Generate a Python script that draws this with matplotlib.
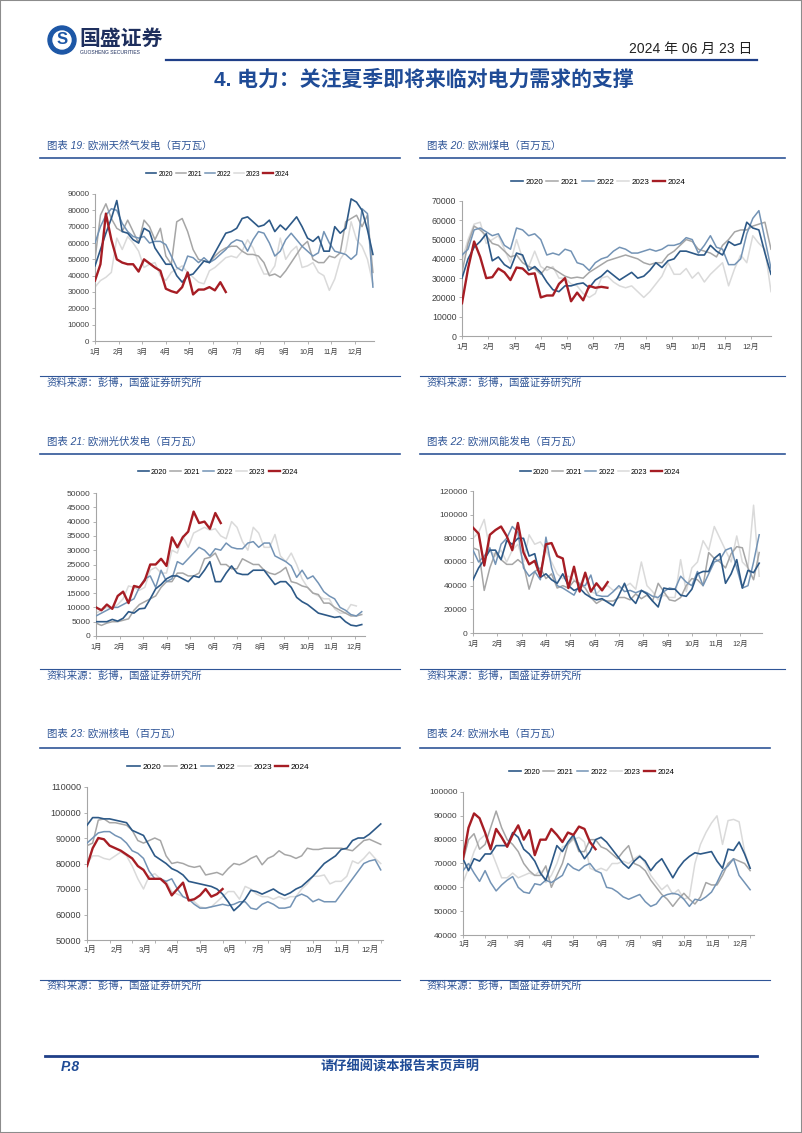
import numpy as np
import matplotlib
matplotlib.use('Agg')
import matplotlib.pyplot as plt
from matplotlib.lines import Line2D
from matplotlib.patches import Ellipse, Rectangle

plt.rcParams['font.family'] = ['Liberation Sans', 'Noto Sans CJK SC']

W, H = 802, 1133

years = ['2020', '2021', '2022', '2023', '2024']
months12 = ['1月', '2月', '3月', '4月', '5月', '6月', '7月', '8月', '9月', '10月', '11月', '12月']
months11 = ['1月', '2月', '3月', '4月', '5月', '6月', '7月', '9月', '10月', '11月', '12月']

# 图表19 欧洲天然气发电
gas_2020 = [46000, 56000, 66000, 75000, 86000, 67000, 66000, 62000, 60000, 69000,
            67000, 57000, 52000, 47000, 47000, 40000, 36000, 40000, 41000, 45000,
            49000, 48000, 54000, 60000, 66000, 67000, 69000, 75000, 76000, 73000,
            70000, 71000, 74000, 67000, 71000, 68000, 72000, 76000, 70000, 63000,
            61000, 64000, 55000, 55000, 70000, 66000, 69000, 87000, 85000, 80000,
            68000, 53000]
gas_2021 = [50000, 77000, 84000, 75000, 69000, 67000, 74000, 67000, 60000, 74000,
            70000, 62000, 69000, 52000, 47000, 73000, 75000, 67000, 56000, 50000,
            49000, 48000, 52000, 55000, 57000, 58000, 58000, 55000, 53000, 53000,
            52000, 48000, 40000, 41000, 39000, 43000, 48000, 53000, 58000, 61000,
            50000, 48000, 48000, 52000, 51000, 54000, 73000, 75000, 77000, 70000,
            77000, 42000]
gas_2022 = [60000, 70000, 77000, 81000, 80000, 72000, 67000, 64000, 63000, 64000,
            60000, 61000, 61000, 59000, 52000, 45000, 43000, 52000, 51000, 48000,
            51000, 48000, 50000, 53000, 56000, 60000, 62000, 61000, 55000, 62000,
            67000, 66000, 60000, 52000, 55000, 62000, 66000, 62000, 58000, 55000,
            52000, 54000, 67000, 60000, 55000, 54000, 53000, 50000, 53000, 81000,
            78000, 33000]
gas_2023 = [33000, 37000, 39000, 42000, 63000, 56000, 64000, 60000, 55000, 45000,
            47000, 48000, 40000, 37000, 42000, 44000, 46000, 42000, 39000, 36000,
            35000, 43000, 45000, 48000, 51000, 52000, 51000, 55000, 62000, 57000,
            48000, 41000, 41000, 46000, 63000, 50000, 55000, 58000, 45000, 46000,
            48000, 42000, 40000, 31000, 38000, 50000, 55000, 73000, 62000, 58000,
            50000, 35000]
gas_2024 = [37000, 47000, 78000, 62000, 50000, 48000, 47000, 47000, 42500, 50000,
            47500, 45000, 43000, 32000, 30500, 29500, 33000, 42000, 28500, 31500,
            31500, 33000, 31000, 36000, 30000]

# 图表20 欧洲煤电
coal_2020 = [30000, 40000, 46000, 49000, 53000, 39000, 41000, 37000, 35000, 43000,
             42000, 34000, 36000, 33000, 28000, 24000, 23000, 26000, 26000, 27000,
             27500, 25000, 29000, 31000, 34000, 31500, 29000, 31000, 33000, 30000,
             31000, 34000, 38000, 35500, 39000, 40000, 44000, 44000, 43000, 42000,
             42000, 47000, 44000, 42000, 49000, 47000, 48000, 59000, 56000, 55000,
             43000, 32000]
coal_2021 = [33000, 48000, 57000, 55000, 52000, 48000, 47000, 44000, 41000, 42000,
             38000, 36000, 35000, 32000, 36000, 35000, 33000, 31000, 30000, 30500,
             30000, 33000, 35000, 37000, 39000, 40000, 41000, 42000, 41000, 40000,
             38000, 37000, 38000, 38000, 42000, 44000, 47000, 50000, 49000, 45000,
             44000, 43000, 41000, 47000, 50000, 54000, 55000, 55000, 57000, 58000,
             59000, 45000]
coal_2022 = [42000, 45000, 55000, 56000, 54000, 52000, 53000, 47000, 45000, 56000,
             55000, 52000, 53000, 50000, 42000, 43000, 42000, 45000, 44000, 38000,
             37000, 34000, 38000, 40000, 41000, 44000, 46000, 45000, 43000, 43000,
             44000, 45000, 44000, 45000, 47000, 47000, 48000, 51000, 50000, 43000,
             47000, 52000, 46000, 45000, 37000, 37000, 40000, 53000, 61000, 65000,
             50000, 35000]
coal_2023 = [39000, 50000, 58000, 59000, 48000, 50000, 52000, 45000, 38000, 50000,
             40000, 36000, 44000, 36000, 34000, 36000, 30000, 30000, 27000, 26000,
             22000, 20000, 22000, 30000, 31000, 28000, 26000, 25000, 26000, 23000,
             20000, 23000, 27000, 31000, 38000, 32000, 32000, 35000, 30000, 33000,
             28000, 32000, 35000, 38000, 26000, 35000, 42000, 38000, 52000, 48000,
             45000, 23000]
coal_2024 = [17000, 35000, 49000, 41000, 30000, 30500, 35000, 33000, 29000, 35500,
             35000, 32000, 32500, 20000, 21000, 21000, 27000, 30000, 18000, 22500,
             18500, 26000, 25000, 25500, 25000]

# 图表21 欧洲光伏发电
solar_2020 = [5000, 5000, 5000, 5800, 5200, 6200, 8500, 8000, 9500, 9700,
              13000, 16500, 18000, 20000, 21000, 21000, 20000, 19000, 21000, 20500,
              23000, 26000, 19000, 19000, 22000, 24500, 22000, 21500, 21500, 23000,
              23000, 23000, 20500, 18000, 19000, 19000, 17000, 13500, 12000, 11000,
              9500, 8000, 7500, 7000, 6500, 6800, 5000, 3800, 3500, 4000]
solar_2021 = [4500, 3700, 4500, 5000, 5000, 5500, 6000, 9000, 11000, 12000,
              13000, 14000, 17000, 19000, 19000, 22000, 22000, 21000, 21000, 22000,
              27000, 27500, 29000, 25000, 25000, 23500, 23500, 27000, 26000, 25000,
              25000, 23000, 22000, 21500, 22500, 24000, 19000, 18500, 17500, 17000,
              15000, 14500, 11500, 11500, 10000, 9000, 8000, 7000, 7000, 7500]
solar_2022 = [7000, 8000, 9000, 10000, 10000, 11000, 12000, 13000, 17000, 20000,
              21000, 17000, 23000, 19000, 20000, 26000, 25000, 27000, 29000, 31000,
              30000, 28000, 30500, 30000, 32500, 31000, 30500, 30500, 32500, 33000,
              31000, 32500, 32500, 28000, 27000, 26000, 24500, 20500, 23000, 20000,
              21000, 18500, 15500, 14000, 13000, 10000, 9000, 7500, 7000, 8500]
solar_2023 = [8000, 9000, 10000, 9500, 11000, 13000, 17500, 17000, 16000, 17000,
              23000, 24000, 22000, 22000, 30000, 29000, 35000, 31000, 36000, 37000,
              38000, 37000, 37500, 35000, 34000, 40000, 38000, 33000, 30000, 38000,
              36000, 31000, 31000, 35500, 28000, 26000, 29000, 25000, 20000, 17000,
              15000, 14000, 13000, 13000, 9500, 8000, 8000, 11000, 10500]
solar_2024 = [10000, 9000, 11000, 9500, 14000, 15500, 11500, 17500, 17000, 19500,
              25000, 25000, 27000, 24500, 34500, 31000, 34500, 36500, 43500, 39500,
              40000, 37500, 43000, 39500]

# 图表22 欧洲风能发电
wind_2020 = [45000, 55000, 62000, 70000, 70000, 62000, 78000, 75000, 80000, 80000,
             65000, 67000, 47000, 50000, 45000, 42000, 50000, 40000, 36000, 38000,
             33000, 30000, 28000, 29000, 26000, 23000, 32000, 42000, 30000, 25000,
             36000, 33000, 27000, 22000, 38000, 37000, 37000, 32000, 31000, 37000,
             50000, 52000, 52000, 63000, 67000, 42000, 50000, 62000, 38000, 53000,
             51000, 59000]
wind_2021 = [72000, 70000, 36000, 55000, 68000, 62000, 58000, 58000, 62000, 58000,
             37000, 52000, 55000, 46000, 50000, 38000, 40000, 38000, 44000, 42000,
             38000, 30000, 25000, 28000, 27000, 27000, 30000, 30000, 28000, 33000,
             29000, 32000, 27000, 42000, 35000, 28000, 27000, 30000, 40000, 46000,
             45000, 40000, 68000, 63000, 60000, 55000, 67000, 73000, 72000, 55000,
             45000, 68000]
wind_2022 = [70000, 60000, 65000, 72000, 58000, 75000, 80000, 90000, 85000, 55000,
             48000, 52000, 45000, 81000, 55000, 40000, 38000, 35000, 32000, 41000,
             40000, 49000, 32000, 31000, 31000, 35000, 40000, 35000, 36000, 34000,
             36000, 34000, 31000, 30000, 35000, 38000, 37000, 48000, 43000, 40000,
             52000, 40000, 50000, 60000, 62000, 70000, 72000, 55000, 38000, 40000,
             60000, 83000]
wind_2023 = [80000, 85000, 96000, 70000, 65000, 70000, 60000, 70000, 75000, 60000,
             83000, 75000, 77000, 70000, 60000, 50000, 46000, 48000, 45000, 40000,
             50000, 35000, 33000, 38000, 40000, 36000, 38000, 39000, 42000, 37000,
             60000, 40000, 35000, 28000, 32000, 30000, 30000, 62000, 35000, 55000,
             60000, 78000, 70000, 90000, 80000, 70000, 60000, 82000, 60000, 55000,
             108000, 48000]
wind_2024 = [89000, 84000, 57000, 83000, 87000, 90000, 82000, 70000, 93000, 68000,
             58000, 61000, 48000, 75000, 76000, 65000, 63000, 38000, 56000, 35000,
             51000, 35000, 42000, 36000, 43000]

# 图表23 欧洲核电
nuc_2020 = [95000, 98000, 98000, 97500, 97500, 97000, 96500, 96000, 93000, 92000,
            91000, 87000, 83000, 81500, 80000, 78000, 77000, 75500, 73000, 72500,
            72000, 71500, 71000, 70000, 68000, 65000, 61500, 63500, 66000, 69500,
            69000, 68000, 69000, 70000, 68500, 67500, 68500, 70000, 71000, 73000,
            75000, 77500, 80000, 81500, 83000, 85500, 86000, 89000, 90000, 90000,
            91500, 93500, 95500]
nuc_2021 = [87000, 88000, 97000, 97500, 96000, 96000, 95500, 95000, 93000, 89000,
            88000, 89000, 90000, 89000, 83000, 80000, 80500, 80000, 79000, 78500,
            79000, 75500, 76000, 76500, 75500, 78000, 80000, 79500, 80500, 82000,
            83000, 79500, 82000, 83000, 85000, 83500, 83000, 82000, 83000, 86000,
            85500, 85500, 86000, 86000, 86000, 86000, 85500, 85000, 87000, 89000,
            89500, 88500, 87500]
nuc_2022 = [88000, 90000, 92000, 92500, 92500, 91000, 90000, 88000, 85000, 84000,
            82000, 77000, 74000, 74000, 73000, 74000, 70000, 67000, 66000, 64000,
            62500, 62500, 63000, 63500, 64000, 63500, 64000, 65000, 65000, 62500,
            62000, 64000, 65000, 64000, 62500, 62500, 63000, 67000, 68000, 67000,
            65000, 66000, 65000, 65000, 65000, 68000, 71000, 74000, 77000, 80000,
            81000, 81500, 77500]
nuc_2023 = [80000, 83000, 83000, 82000, 81500, 83000, 84500, 83000, 79000, 74000,
            70000, 75000, 76000, 74000, 73000, 69000, 68000, 67000, 66000, 65000,
            63000, 62500, 63000, 65000, 67000, 69000, 69000, 66000, 71000, 70000,
            68000, 67000, 67000, 66000, 67000, 66000, 67000, 67000, 70000, 72000,
            75000, 75000, 75500, 72000, 73000, 73000, 75000, 81000, 80000, 82000,
            84500, 82000, 80000]
nuc_2024 = [79000, 86000, 90000, 89500, 87000, 86000, 85000, 83500, 82000, 79000,
            77500, 74000, 74000, 74000, 72000, 67500, 70000, 72500, 65500, 66000,
            67500, 70000, 67000, 68000, 70000]

# 图表24 欧洲水电
hydro_2020 = [72000, 67000, 72000, 71000, 74000, 74000, 77500, 77500, 77500, 83000,
              81000, 76000, 74000, 71000, 66000, 63000, 70000, 77500, 75000, 79000,
              82000, 76000, 72000, 75000, 80000, 81000, 79000, 76000, 73000, 70000,
              68000, 71000, 73000, 71000, 67000, 70000, 72000, 68000, 64000, 68000,
              71000, 73000, 74500, 74000, 74500, 75000, 71000, 68000, 76000, 75500,
              79000, 74000, 68000]
hydro_2021 = [71000, 80000, 82500, 76000, 78000, 85000, 92000, 85000, 80000, 78000,
              75000, 70000, 67000, 65000, 65000, 69000, 60000, 65000, 70000, 78000,
              81000, 75000, 75000, 80000, 80000, 77000, 76000, 74000, 72000, 75000,
              77500, 70000, 69000, 67000, 63000, 60000, 57000, 55000, 52000, 55000,
              57500, 55000, 53000, 56000, 62000, 61000, 61000, 65000, 70000, 72000,
              71000, 70000, 67000]
hydro_2022 = [67000, 70000, 66000, 62500, 67000, 62000, 58500, 61000, 63000, 64500,
              60000, 58000, 57500, 61500, 61000, 63000, 62000, 63500, 65000, 70000,
              68000, 67000, 69000, 70000, 67000, 66000, 60000, 59500, 58000, 56000,
              55000, 56000, 57000, 54000, 52000, 53000, 56000, 57000, 57500, 57000,
              55000, 52000, 55000, 54500, 56000, 58000, 62000, 67000, 69000, 72000,
              65000, 62000, 59000]
hydro_2023 = [62000, 68000, 75000, 80000, 82000, 76000, 70000, 64000, 64000, 66000,
              64000, 65000, 66000, 65000, 67000, 62000, 65000, 70000, 77000, 78000,
              80000, 81000, 79000, 68000, 67000, 68000, 67000, 70000, 70000, 71000,
              70000, 72000, 73500, 70000, 65000, 62000, 59000, 61000, 57000, 59000,
              55000, 56000, 70000, 78000, 83000, 87000, 90000, 78000, 88000, 88500,
              87500, 75000, 68000]
hydro_2024 = [72000, 85000, 91000, 89000, 83000, 76000, 84500, 81000, 77000, 82000,
              86000, 80000, 84000, 73500, 80000, 80000, 84500, 82000, 79000, 83000,
              82000, 85500, 84500, 79000, 76000]

colors = {'2020': '#2D5987', '2021': '#A6A6A6', '2022': '#7393B5', '2023': '#DADADA', '2024': '#A61D24'}
widths = {'2020': 1.2, '2021': 1.1, '2022': 1.1, '2023': 1.1, '2024': 1.7}
zorders = {'2020': 4, '2021': 2, '2022': 3, '2023': 1, '2024': 5}
blue = '#2F5597'

fig = plt.figure(figsize=(W / 100, H / 100), dpi=100)


def fx(x):
    return x / W


def fy(y):
    return 1 - y / H


def hline(x0, x1, y, lw=1.2, color=blue):
    fig.add_artist(Line2D([fx(x0), fx(x1)], [fy(y), fy(y)], lw=lw, color=color))


def draw_chart(box, data, ymin, ymax, ystep, xmax, legend_xy, legend_fs, tick_fs, labels11=None):
    x0, x1, y0, y1 = box
    ax = fig.add_axes([fx(x0), fy(y1), (x1 - x0) / W, (y1 - y0) / H])
    for yr, vals in zip(years, data):
        ax.plot(np.arange(len(vals)), vals, color=colors[yr], lw=widths[yr],
                zorder=zorders[yr], label=yr, solid_joinstyle='round')
    ax.set_xlim(0, xmax)
    ax.set_ylim(ymin, ymax)
    yt = np.arange(ymin, ymax + 1, ystep)
    ax.set_yticks(yt, [str(v) for v in yt])
    if labels11 is None:
        ax.set_xticks(np.arange(12) * 52 / 12, months12)
    else:
        # 刻度每4周一个，月份标签另外均匀排开（原图缺8月）
        ax.xaxis.remove_overlapping_locs = False
        ax.set_xticks(np.arange(0, 53, 4), [''] * 14)
        ax.set_xticks(np.linspace(labels11[0], labels11[1], 11), months11, minor=True)
        ax.tick_params(axis='x', which='minor', length=0, labelsize=tick_fs - 0.7,
                       colors='#404040', pad=4)
    for s in ['top', 'right']:
        ax.spines[s].set_visible(False)
    for s in ['left', 'bottom']:
        ax.spines[s].set_color('#A6A6A6')
        ax.spines[s].set_linewidth(0.8)
    ax.tick_params(axis='y', labelsize=tick_fs, colors='#404040', length=2, width=0.6, pad=2)
    ax.tick_params(axis='x', which='major', labelsize=tick_fs - 0.7, colors='#404040',
                   length=2, width=0.6, pad=4)
    ax.tick_params(axis='both', color='#A6A6A6')
    ax.patch.set_alpha(0)
    ax.legend(loc='center', bbox_to_anchor=(fx(legend_xy[0]), fy(legend_xy[1])),
              bbox_transform=fig.transFigure, ncol=5, frameon=False, fontsize=legend_fs,
              handlelength=1.5, handletextpad=0.3, columnspacing=0.4, borderpad=0)
    return ax


# 页面边框
fig.add_artist(Rectangle((0, 0), 1, 1, transform=fig.transFigure, fill=False,
                         edgecolor='#8C8C8C', lw=1.5))

# 标志
fig.add_artist(Ellipse((fx(62), fy(40)), 28 / W, 28 / H, color='#1D57A6'))
fig.add_artist(Ellipse((fx(62), fy(40)), 18 / W, 18 / H, color='white'))
fig.text(fx(62), fy(40), 'S', fontsize=12, fontweight='bold', color='#1D57A6',
         ha='center', va='center')
fig.text(fx(79), fy(39), '国盛证券', fontsize=15, fontweight='bold', color='#1E2F5E',
         ha='left', va='center')
fig.text(fx(80), fy(53), 'GUOSHENG SECURITIES', fontsize=3.6, color='#1E2F5E',
         ha='left', va='center')
fig.text(fx(752), fy(49), '2024 年 06 月 23 日', fontsize=10, color='#222222',
         ha='right', va='center')
hline(166, 757, 60, lw=1.6, color='#1F3F88')
fig.text(fx(424), fy(80), '4. 电力：关注夏季即将来临对电力需求的支撑', fontsize=15,
         fontweight='bold', color='#1F4B96', ha='center', va='center')

# 标题、分隔线与来源
titles = ['图表 19: 欧洲天然气发电（百万瓦）', '图表 20: 欧洲煤电（百万瓦）',
          '图表 21: 欧洲光伏发电（百万瓦）', '图表 22: 欧洲风能发电（百万瓦）',
          '图表 23: 欧洲核电（百万瓦）', '图表 24: 欧洲水电（百万瓦）']
title_y = [146, 442, 734]
line_y = [158, 454, 748]
src_line_y = [376, 669, 980]
src_y = [383, 676, 986]
for r in range(3):
    fig.text(fx(47), fy(title_y[r]), titles[2 * r], fontsize=7.5, color=blue,
             style='italic', ha='left', va='center')
    fig.text(fx(427), fy(title_y[r]), titles[2 * r + 1], fontsize=7.5, color=blue,
             style='italic', ha='left', va='center')
    hline(40, 400, line_y[r])
    hline(420, 785 if r < 2 else 770, line_y[r])
    hline(40, 400, src_line_y[r], lw=0.8)
    hline(420, 785 if r < 2 else 770, src_line_y[r], lw=0.8)
    fig.text(fx(47), fy(src_y[r]), '资料来源：彭博，国盛证券研究所', fontsize=7.5,
             color=blue, style='italic', ha='left', va='center')
    fig.text(fx(427), fy(src_y[r]), '资料来源：彭博，国盛证券研究所', fontsize=7.5,
             color=blue, style='italic', ha='left', va='center')

# 六个图
draw_chart((95, 374, 194, 341), [gas_2020, gas_2021, gas_2022, gas_2023, gas_2024],
           0, 90000, 10000, 51.2, (218, 174), 4.8, 5.8)
draw_chart((462, 771, 201, 336), [coal_2020, coal_2021, coal_2022, coal_2023, coal_2024],
           0, 70000, 10000, 51.0, (598, 182), 5.8, 6.3)
draw_chart((96, 365, 493, 636), [solar_2020, solar_2021, solar_2022, solar_2023, solar_2024],
           0, 50000, 5000, 49.6, (218, 472), 5.3, 6.0)
draw_chart((473, 762, 491, 633), [wind_2020, wind_2021, wind_2022, wind_2023, wind_2024],
           0, 120000, 20000, 51.5, (600, 472), 5.3, 6.0)
draw_chart((87, 383, 787, 940), [nuc_2020, nuc_2021, nuc_2022, nuc_2023, nuc_2024],
           50000, 110000, 10000, 52.4, (218, 767), 6.0, 6.6, labels11=(0.4, 50.1))
draw_chart((463, 754, 792, 935), [hydro_2020, hydro_2021, hydro_2022, hydro_2023, hydro_2024],
           40000, 100000, 10000, 52.7, (592, 772), 5.5, 6.0, labels11=(0.3, 50.2))

# 页脚
hline(45, 757, 1056, lw=2.0, color='#1F3F88')
fig.text(fx(61), fy(1067), 'P.8', fontsize=10, fontweight='bold', style='italic',
         color='#1F4B96', ha='left', va='center')
fig.text(fx(400), fy(1067), '请仔细阅读本报告末页声明', fontsize=9.5, fontweight='bold',
         color='#1F4B96', ha='center', va='center')

fig.savefig('out.png', dpi=100)
